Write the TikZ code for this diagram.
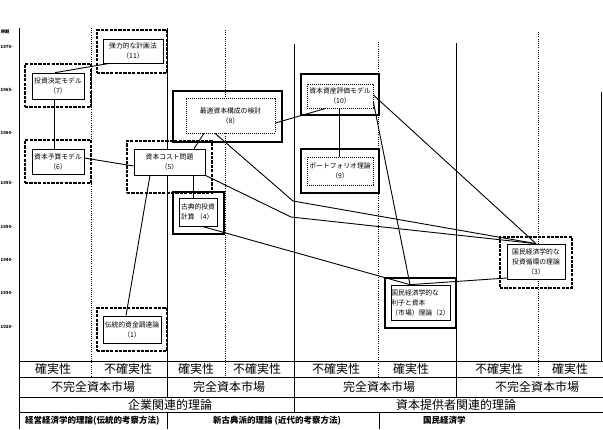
\documentclass[tikz,border=0pt]{standalone}
\usepackage{fontspec}
\setmainfont{Noto Sans CJK JP}
\begin{document}
\begin{tikzpicture}[x=1pt,y=-1pt,
  colline/.style={line width=0.9pt},
  coldot/.style={line width=0.7pt, dash pattern=on 0.8pt off 1.4pt},
  link/.style={line width=0.9pt},
  outerdash/.style={draw, line width=2.2pt, dash pattern=on 3.2pt off 1.2pt, inner sep=0pt},
  outersolid/.style={draw, line width=2.2pt, inner sep=0pt},
  innersolid/.style={draw, fill=white, line width=0.7pt, inner sep=0pt,
    font=\fontsize{6.8}{10}\selectfont, align=center},
  innerdot/.style={innersolid, dash pattern=on 0.8pt off 1.2pt},
  cell/.style={font=\fontsize{12}{14}\selectfont, inner sep=0pt},
  foot/.style={font=\fontsize{8.5}{10}\selectfont\bfseries, inner sep=0pt, anchor=west},
  year/.style={font=\fontsize{4.3}{5}\selectfont\bfseries, anchor=east, inner sep=0pt}
]
\useasboundingbox (0,0) rectangle (603,429);

% time axis labels
\node[year, anchor=west] (yt) at (0.6,32) {時期};
\node[year] (y70) at (13,47) {1970-};
\node[year] (y65) at (13,90) {1965-};
\node[year] (y60) at (13,133) {1960-};
\node[year] (y55) at (13,183) {1955-};
\node[year] (y50) at (13,227) {1950-};
\node[year] (y40) at (13,260) {1940-};
\node[year] (y30) at (13,293) {1930-};
\node[year] (y20) at (13,327) {1920-};

% column rules
\draw[colline] (19,28) -- (19,429);
\draw[coldot] (91,28) -- (91,377);
\draw[colline] (167,28) -- (167,397);
\draw[coldot] (225,30) -- (225,377);
\draw[colline] (294,44) -- (294,412);
\draw[coldot] (378,42) -- (378,377);
\draw[colline] (456,43) -- (456,397);
\draw[coldot] (538,32) -- (538,377);
\draw[colline] (601.5,92) -- (601.5,361);
\draw[colline] (167,412) -- (167,429);
\draw[colline] (379,412) -- (379,429);

% table rules
\foreach \yy in {361,377,397,412} \draw[colline] (19,\yy) -- (603,\yy);

% outer frames
\node[outerdash, minimum width=70pt, minimum height=43pt] (b11o) at (132,51.5) {};
\node[outerdash, minimum width=66pt, minimum height=43pt] (b7o) at (58,85.5) {};
\node[outerdash, minimum width=66pt, minimum height=43pt] (b6o) at (58,161.5) {};
\node[outerdash, minimum width=85pt, minimum height=52pt] (b5o) at (169.5,167) {};
\node[outersolid, minimum width=109pt, minimum height=51pt] (b8o) at (227.5,116.5) {};
\node[outersolid, minimum width=51pt, minimum height=42pt] (b4o) at (198.5,213) {};
\node[outersolid, minimum width=78pt, minimum height=41pt] (b10o) at (340,94.5) {};
\node[outersolid, minimum width=78pt, minimum height=44pt] (b9o) at (340,171) {};
\node[outerdash, minimum width=72pt, minimum height=51pt] (b3o) at (536,262.5) {};
\node[outersolid, minimum width=71pt, minimum height=50pt] (b2o) at (420.5,303) {};
\node[outerdash, minimum width=70pt, minimum height=43pt] (b1o) at (132,329.5) {};

% inner boxes with their texts
\node[innersolid, minimum width=60pt, minimum height=24pt] (b11in) at (133,51) {弾力的な計画法\\（11）};
\node[innersolid, minimum width=52pt, minimum height=26pt] (b7in) at (58,86) {投資決定モデル\\（7）};
\node[innersolid, minimum width=52pt, minimum height=25pt] (b6in) at (58,161.5) {資本予算モデル\\（6）};
\node[innersolid, minimum width=71pt, minimum height=26pt] (b5in) at (169.5,162) {資本コスト問題\\（5）};
\node[innerdot, minimum width=89pt, minimum height=35pt] (b8in) at (230.5,115.5) {最適資本構成の検討\\（8）};
\node[innersolid, minimum width=38pt, minimum height=28pt, align=left] (b4in) at (198,212) {古典的投資\\計算 （4）};
\node[innerdot, minimum width=66pt, minimum height=24pt] (b10in) at (340,96) {資本資産評価モデル\\（10）};
\node[innerdot, minimum width=66pt, minimum height=28pt] (b9in) at (340,171) {ポートフォリオ理論\\（9）};
\node[innersolid, minimum width=58pt, minimum height=35pt] (b3in) at (536,261.5) {国民経済学的な\\投資循環の理論\\（3）};
\node[innersolid, minimum width=59pt, minimum height=35pt, align=left] (b2in) at (420.5,302.5) {国民経済学的な\\利子と資本\\（市場）理論（2）};
\node[innersolid, minimum width=58pt, minimum height=27pt] (b1in) at (132,329.5) {伝統的資金調達論\\（1）};

% bends of the long links
\coordinate (k1) at (293,201);
\coordinate (k2) at (291,217);

% links between the theories
\begin{scope}[link]
\draw ([xshift=7pt]b11in.south west) -- ([xshift=-3pt]b7in.north);
\draw ([xshift=-4pt]b7in.south) -- ([xshift=-4pt]b6in.north);
\draw ([yshift=3.5pt]b6in.east) -- ([yshift=-4pt]b5in.west);
\draw ([xshift=24.5pt]b5in.north) -- ([xshift=-26.5pt]b8in.south);
\draw ([xshift=23.5pt]b5in.south) -- ([xshift=-5pt]b4in.north);
\draw ([xshift=-19.5pt]b5in.south) -- ([xshift=-6pt]b1in.north);
\draw ([yshift=-7.5pt]b8in.east) -- ([xshift=-14pt]b10in.south);
\draw ([xshift=-1pt]b10in.south) -- ([xshift=-1pt]b9in.north);
\draw ([yshift=1pt]b10in.east) -- (b3in.north);
\draw ([yshift=-6pt]b10in.east) -- ([xshift=-10.5pt]b2in.north);
\draw ([xshift=-15.5pt]b8in.south) -- (k1) -- (b3in.north);
\draw (b5in.south east) -- (k2) -- (b3in.north);
\draw ([xshift=4pt]b4in.south) -- ([xshift=-10.5pt]b2in.north);
\draw ([xshift=-10.5pt]b2in.north) -- ([yshift=-16.5pt]b3in.west);
\end{scope}

% table texts
\node[cell] (r1a) at (53,369) {確実性};
\node[cell] (r1b) at (128,369) {不確実性};
\node[cell] (r1c) at (196,369) {確実性};
\node[cell] (r1d) at (257,369) {不確実性};
\node[cell] (r1e) at (336,369) {不確実性};
\node[cell] (r1f) at (411,369) {確実性};
\node[cell] (r1g) at (499,369) {不確実性};
\node[cell] (r1h) at (570,369) {確実性};
\node[cell] (r2a) at (93,387) {不完全資本市場};
\node[cell] (r2b) at (229,387) {完全資本市場};
\node[cell] (r2c) at (379,387) {完全資本市場};
\node[cell] (r2d) at (537,387) {不完全資本市場};
\node[cell] (r3a) at (170,404.5) {企業関連的理論};
\node[cell] (r3b) at (456,404.5) {資本提供者関連的理論};
\node[foot] (r4a) at (25,420.5) {経営経済学的理論(伝統的考察方法)};
\node[foot] (r4b) at (213,420.5) {新古典派的理論 (近代的考察方法)};
\node[foot] (r4c) at (423,420.5) {国民経済学};
\end{tikzpicture}
\end{document}
